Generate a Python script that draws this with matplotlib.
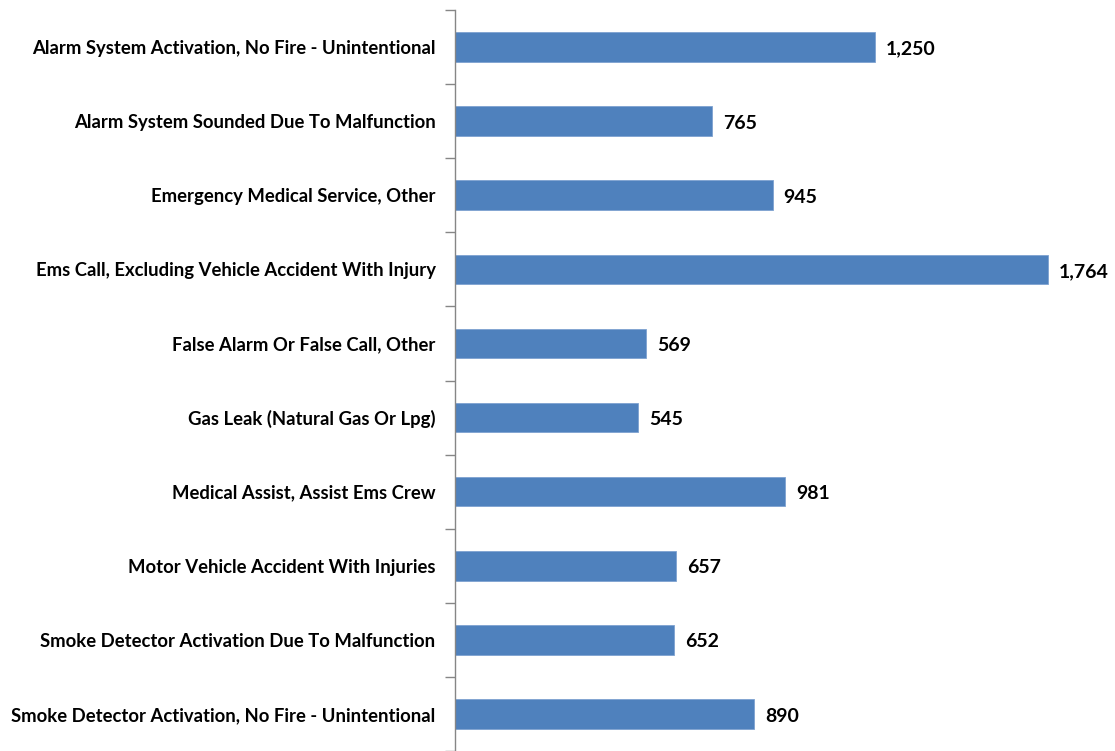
import matplotlib
matplotlib.use("Agg")
import matplotlib.pyplot as plt

categories = [
    "Alarm System Activation, No Fire - Unintentional",
    "Alarm System Sounded Due To Malfunction",
    "Emergency Medical Service, Other",
    "Ems Call, Excluding Vehicle Accident With Injury",
    "False Alarm Or False Call, Other",
    "Gas Leak (Natural Gas Or Lpg)",
    "Medical Assist, Assist Ems Crew",
    "Motor Vehicle Accident With Injuries",
    "Smoke Detector Activation Due To Malfunction",
    "Smoke Detector Activation, No Fire - Unintentional",
]
values = [1250, 765, 945, 1764, 569, 545, 981, 657, 652, 890]

W, H = 1115, 751
fig = plt.figure(figsize=(W / 100, H / 100), dpi=100)
left_px, top_px, bottom_px = 455, 10, 751
ax = fig.add_axes([left_px / W, 1 - bottom_px / H, (W - left_px) / W, (bottom_px - top_px) / H])

pos = list(range(len(categories)))
ax.barh(pos, values, height=0.4, color="#4F81BD", edgecolor="#7EA2D0", linewidth=0.6)
ax.set_ylim(len(categories) - 0.5, -0.5)
ax.set_xlim(0, (W - left_px) / 0.3361)

font = "Lato"
ax.set_yticks(pos)
ax.set_yticklabels(categories, fontsize=13.3, fontweight="bold", family=font, color="#000000")
ax.tick_params(axis="y", length=0, pad=14)
ax.set_yticks([p - 0.5 for p in pos] + [len(pos) - 0.5], minor=True)
ax.tick_params(axis="y", which="minor", length=7, color="#868686", width=1)
ax.set_xticks([])
for s in ["top", "right", "bottom"]:
    ax.spines[s].set_visible(False)
ax.spines["left"].set_color("#868686")
ax.spines["left"].set_linewidth(1)

for p, v in zip(pos, values):
    ax.annotate(f"{v:,}", xy=(v, p), xytext=(8, -1.5), textcoords="offset points",
                va="center", ha="left", fontsize=14, fontweight="bold", family=font)

fig.savefig("out.png", dpi=100)
